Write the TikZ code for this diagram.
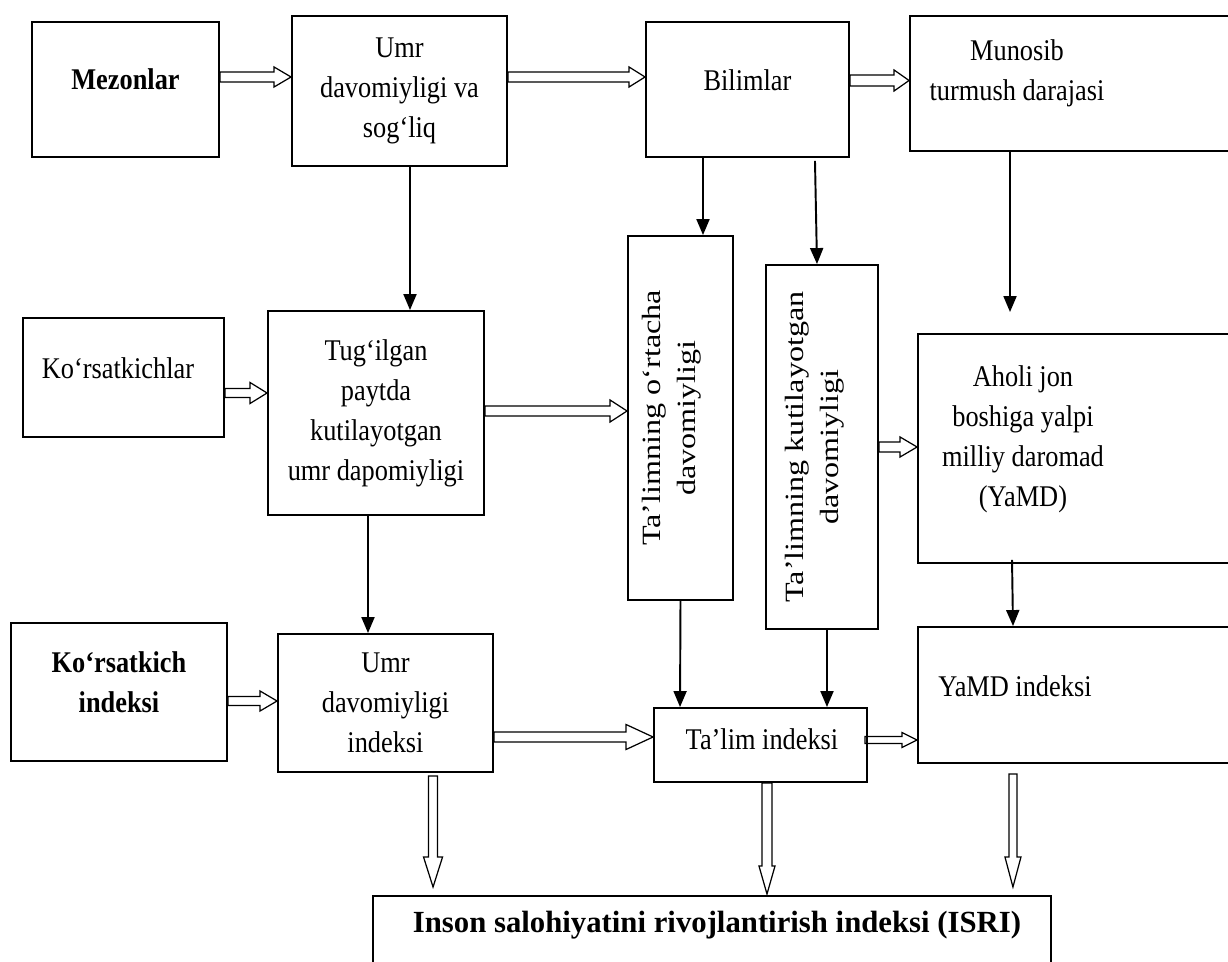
\documentclass[tikz,border=0pt]{standalone}
\usepackage{fontspec}
\setmainfont{Liberation Serif}[FakeStretch=0.877]
\newfontfamily\vfont{Liberation Serif}[FakeStretch=1.22]
\newfontfamily\wfont{Liberation Serif}
\usetikzlibrary{arrows.meta}
\usetikzlibrary{calc}

\tikzset{
  shaftw/.store in=\shaftw, headw/.store in=\headw, headl/.store in=\headl,
  shaftw=.1cm, headw=.2cm, headl=.34cm,
  hollow/.style={line width=.7pt, to path={
    let \p1=(\tikztostart), \p2=(\tikztotarget),
        \n1={atan2(\y2-\y1,\x2-\x1)},
        \p3=($(\p2)!\headl!(\p1)$) in
    ($(\p1)+(\n1+90:\shaftw)$) -- ($(\p3)+(\n1+90:\shaftw)$)
    -- ($(\p3)+(\n1+90:\headw)$) -- (\p2) -- ($(\p3)+(\n1-90:\headw)$)
    -- ($(\p3)+(\n1-90:\shaftw)$) -- ($(\p1)+(\n1-90:\shaftw)$) -- cycle}},
}

\begin{document}
\begin{tikzpicture}[x=.02cm,y=-.02cm,
    box/.style={draw,line width=1.1pt,inner sep=0pt,align=center,font=\fontsize{17.1}{22.8}\selectfont},
    txt/.style={inner sep=0pt,align=center,font=\fontsize{17.1}{22.8}\selectfont},
    btxt/.style={txt,font=\fontsize{17.1}{22.8}\selectfont\bfseries},
    vtxt/.style={inner sep=0pt,align=center,rotate=90,font=\vfont\fontsize{15}{19.9}\selectfont},
    arr/.style={line width=1.1pt,-{Triangle[length=.32cm,width=.26cm]}}]
  \useasboundingbox (0,0) rectangle (1228,962);
  % top row
  \node[box,minimum width=3.74cm,minimum height=2.7cm] (mez) at (125.5,89.5) {}; %%
  \node[btxt] (mezt) at (125.5,79) {Mezonlar}; %%
  \node[box,minimum width=4.3cm,minimum height=3cm] (umr) at (399.5,91) {Umr\\davomiyligi va\\sog‘liq}; %%
  \node[box,minimum width=4.06cm,minimum height=2.7cm] (bil) at (747.5,89.5) {}; %%
  \node[txt] (bilt) at (747.5,80) {Bilimlar}; %%
  \node[box,minimum width=6.7cm,minimum height=2.7cm] (mun) at (1077.5,83.5) {}; %%
  \node[txt] (munt) at (1017,73) {Munosib\\turmush darajasi}; %%
  % middle row
  \node[box,minimum width=4.02cm,minimum height=2.38cm] (kor) at (123.5,377.5) {}; %%
  \node[txt] (kort) at (118,368) {Ko‘rsatkichlar}; %%
  \node[box,minimum width=4.32cm,minimum height=4.08cm] (tug) at (376,413) {Tug‘ilgan\\paytda\\kutilayotgan\\umr dapomiyligi}; %%
  \node[box,minimum width=2.1cm,minimum height=7.28cm] (ort) at (680.5,418) {}; %%
  \node[vtxt] (ortt) at (672,418) {Ta’limning o‘rtacha\\davomiyligi}; %%
  \node[box,minimum width=2.24cm,minimum height=7.28cm] (kut) at (822,447) {}; %%
  \node[vtxt] (kutt) at (815,447) {Ta’limning kutilayotgan\\davomiyligi}; %%
  \node[box,minimum width=6.54cm,minimum height=4.58cm] (aho) at (1081.5,448.5) {}; %%
  \node[txt] (ahot) at (1023,439) {Aholi jon\\boshiga yalpi\\milliy daromad\\(YaMD)}; %%
  % bottom row
  \node[box,minimum width=4.32cm,minimum height=2.76cm] (kin) at (119,692) {}; %%
  \node[btxt] (kint) at (119,682) {Ko‘rsatkich\\indeksi}; %%
  \node[box,minimum width=4.3cm,minimum height=2.76cm] (uin) at (385.5,703) {Umr\\davomiyligi\\indeksi}; %%
  \node[box,minimum width=4.26cm,minimum height=1.48cm] (tin) at (760.5,745) {}; %%
  \node[txt] (tint) at (762,739) {Ta’lim indeksi}; %%
  \node[box,minimum width=6.54cm,minimum height=2.72cm] (yin) at (1081.5,695) {}; %%
  \node[txt] (yint) at (1015,686) {YaMD indeksi}; %%
  \node[box,minimum width=13.56cm,minimum height=1.88cm] (isri) at (712,943) {}; %%
  \node[inner sep=0pt,font=\wfont\fontsize{17.5}{22.8}\selectfont\bfseries] (isrit) at (717,925) {Inson salohiyatini rivojlantirish indeksi (ISRI)}; %%
  % solid arrows
  \draw[arr] ([xshift=.21cm]umr.south) -- ([xshift=.68cm]tug.north); %%
  \draw[arr] ([xshift=-.89cm]bil.south) -- ([xshift=.45cm]ort.north); %%
  \draw[arr] ([xshift=1.35cm,yshift=-.06cm]bil.south) -- ([xshift=-.1cm]kut.north); %%
  \draw[arr,shorten >=.42cm] ([xshift=-1.35cm]mun.south) -- ([xshift=-1.43cm]aho.north); %%
  \draw[arr] ([xshift=-.16cm]tug.south) -- ([xshift=-.35cm]uin.north); %%
  \draw[arr] (ort.south) -- ([xshift=-1.61cm]tin.north); %%
  \draw[arr] ([xshift=.1cm]kut.south) -- ([xshift=1.33cm]tin.north); %%
  \draw[arr] ([xshift=-1.39cm,yshift=.08cm]aho.south) -- ([xshift=-1.37cm]yin.north); %%
  % hollow arrows
  \draw[hollow] ([yshift=.25cm]mez.east) to ([yshift=.28cm]umr.west); %%
  \draw[hollow,headl=.32cm] ([yshift=.28cm]umr.east) to ([yshift=.25cm]bil.west); %%
  \draw[hollow,shaftw=.11cm,headw=.21cm,headl=.3cm] ([yshift=.18cm]bil.east) to ([yshift=.06cm]mun.west); %%
  \draw[hollow,shaftw=.09cm,headw=.21cm] ([yshift=-.31cm]kor.east) to ([yshift=.4cm]tug.west); %%
  \draw[hollow,headw=.22cm] ([yshift=.04cm]tug.east) to ([yshift=.14cm]ort.west); %%
  \draw[hollow] (kut.east) to ([yshift=.03cm]aho.west); %%
  \draw[hollow,shaftw=.09cm] ([yshift=-.18cm]kin.east) to ([yshift=.04cm]uin.west); %%
  \draw[hollow,headw=.25cm,headl=.54cm] ([yshift=-.68cm]uin.east) to ([yshift=.16cm]tin.west); %%
  \draw[hollow,shaftw=.07cm,headw=.15cm,headl=.3cm] ([xshift=-.06cm,yshift=.1cm]tin.east) to ([yshift=-.9cm]yin.west); %%
  \draw[hollow,shaftw=.09cm,headw=.19cm,headl=.6cm] ([xshift=.95cm,yshift=-.06cm]uin.south) to ([xshift=-5.58cm,yshift=.16cm]isri.north); %%
  \draw[hollow,headw=.16cm,headl=.56cm] ([xshift=.13cm]tin.south) to ([xshift=1.1cm,yshift=.02cm]isri.north); %%
  \draw[hollow,shaftw=.08cm,headw=.16cm,headl=.6cm] ([xshift=-1.37cm,yshift=-.2cm]yin.south) to ([xshift=6.02cm,yshift=.16cm]isri.north); %%
\end{tikzpicture}
\end{document}
